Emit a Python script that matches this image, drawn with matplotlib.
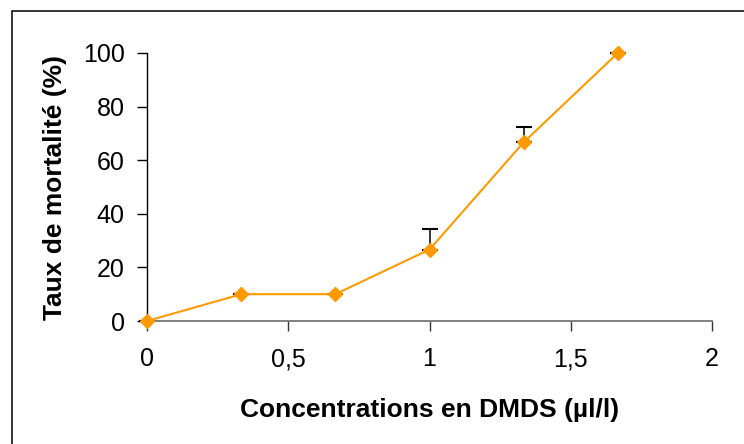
import matplotlib
matplotlib.use("Agg")
import matplotlib.pyplot as plt
from matplotlib.patches import Rectangle

plt.rcParams['font.family'] = ['Liberation Sans', 'DejaVu Sans']

# Data
concentrations = [0, 1/3, 2/3, 1, 4/3, 5/3]
mortality = [0, 10, 10, 26.67, 66.67, 100]
err_upper = [0, 0, 0, 7.5, 5.8, 0]
x_ticks = [0, 0.5, 1, 1.5, 2]
x_tick_labels = ["0", "0,5", "1", "1,5", "2"]
y_ticks = [0, 20, 40, 60, 80, 100]
x_label = "Concentrations en DMDS (µl/l)"
y_label = "Taux de mortalité (%)"

W, H = 744, 444
fig = plt.figure(figsize=(W / 100, H / 100), dpi=100)
fig.patch.set_facecolor('white')

# outer frame (left and top visible)
fig.patches.append(Rectangle((12 / W, -0.1), 1.2, 1 - 11 / H + 0.1,
                             transform=fig.transFigure, fill=False,
                             edgecolor='black', linewidth=1.1, zorder=0))

ax = fig.add_axes([147 / W, 1 - 321 / H, (712 - 147) / W, (321 - 53) / H])

ax.errorbar(concentrations, mortality,
            yerr=[[0] * len(err_upper), err_upper],
            fmt='none', ecolor='black', elinewidth=1.1, capsize=5.5,
            capthick=1.5, zorder=2, clip_on=False)
ax.plot(concentrations, mortality, color='#FF9900', linewidth=1.5,
        marker='D', markersize=7.2, markerfacecolor='#FF9900',
        markeredgecolor='#FF9900', zorder=3, clip_on=False)

ax.set_xlim(0, 2)
ax.set_ylim(0, 100)
ax.set_xticks(x_ticks)
ax.set_xticklabels(x_tick_labels)
ax.set_yticks(y_ticks)

for s in ['top', 'right']:
    ax.spines[s].set_visible(False)
ax.spines['left'].set_color('black')
ax.spines['left'].set_linewidth(1.0)
ax.spines['bottom'].set_color('#808080')
ax.spines['bottom'].set_linewidth(1.4)

ax.tick_params(axis='x', direction='out', length=7, width=1.0,
               color='#333333', labelsize=18, pad=12)
ax.tick_params(axis='y', direction='out', length=7, width=1.0,
               color='black', labelsize=18, pad=9)

ax.set_xlabel(x_label, fontsize=19, fontweight='bold')
ax.set_ylabel(y_label, fontsize=19, fontweight='bold')
ax.xaxis.set_label_coords(0.5, -(410 - 321) / (321 - 53))
ax.xaxis.label.set_va('center')
ax.yaxis.set_label_coords(-(147 - 55) / (712 - 147), 0.5)
ax.yaxis.label.set_va('center')

fig.savefig("out.png", dpi=100, facecolor='white')
